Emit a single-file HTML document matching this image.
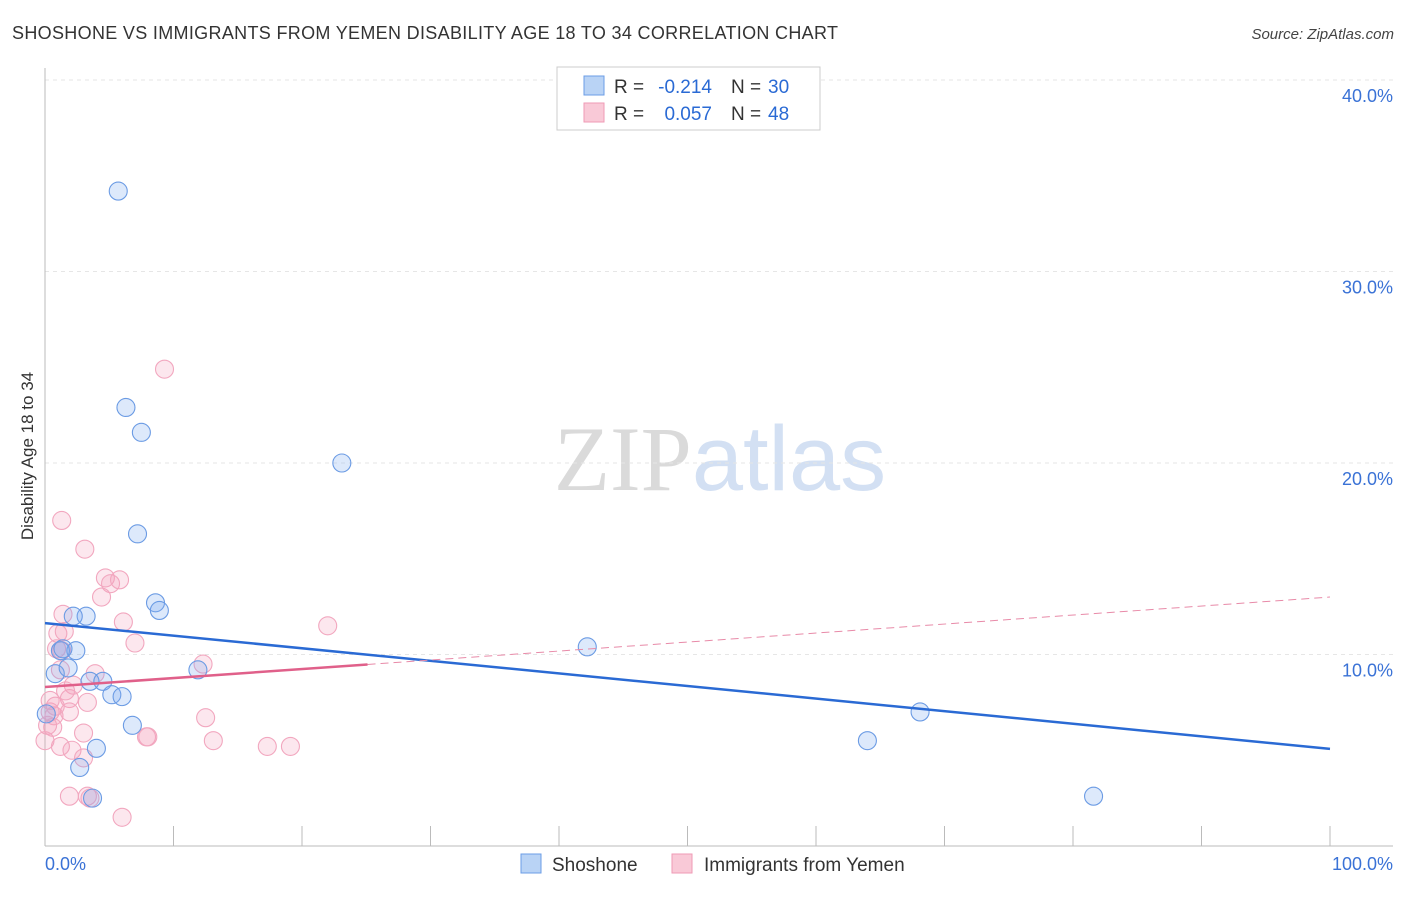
<!DOCTYPE html>
<html><head><meta charset="utf-8"><style>
body{margin:0;background:#fff;font-family:"Liberation Sans",sans-serif;}
svg text{font-family:"Liberation Sans",sans-serif;}
</style></head><body>
<svg id="chart" width="1406" height="892" viewBox="0 0 1406 892" xmlns="http://www.w3.org/2000/svg">
<text x="12" y="39" font-size="18" fill="#333" textLength="826">SHOSHONE VS IMMIGRANTS FROM YEMEN DISABILITY AGE 18 TO 34 CORRELATION CHART</text>
<text x="1394" y="39" font-size="15" fill="#444" text-anchor="end" font-style="italic">Source: ZipAtlas.com</text>
<text x="720" y="490" font-size="92" text-anchor="middle"><tspan fill="#dadada" font-family="Liberation Serif">ZIP</tspan><tspan fill="#d3e0f3">atlas</tspan></text>
<g id="grid"></g>
<g id="axes"></g>
<g id="marks"></g>
<text transform="translate(33,456) rotate(-90)" font-size="17" fill="#333" text-anchor="middle">Disability Age 18 to 34</text>
<g>
<rect x="557" y="67" width="263" height="63" fill="#fff" stroke="#ccc"/>
<rect x="584" y="76" width="20" height="19" fill="#b9d3f5" stroke="#6b9de6"/>
<rect x="584" y="103" width="20" height="19" fill="#f9c9d7" stroke="#ef9ab5"/>
<text x="614" y="93" font-size="19" fill="#333">R =</text>
<text x="712" y="93" font-size="19" fill="#2a6ad4" text-anchor="end">-0.214</text>
<text x="731" y="93" font-size="19" fill="#333">N =</text>
<text x="768" y="93" font-size="19" fill="#2a6ad4">30</text>
<text x="614" y="120" font-size="19" fill="#333">R =</text>
<text x="712" y="120" font-size="19" fill="#2a6ad4" text-anchor="end">0.057</text>
<text x="731" y="120" font-size="19" fill="#333">N =</text>
<text x="768" y="120" font-size="19" fill="#2a6ad4">48</text>
</g>
<g>
<rect x="521" y="854" width="20" height="19" fill="#b9d3f5" stroke="#6b9de6"/>
<text x="552" y="871" font-size="19" fill="#333">Shoshone</text>
<rect x="672" y="854" width="20" height="19" fill="#f9c9d7" stroke="#ef9ab5"/>
<text x="704" y="871" font-size="19" fill="#333">Immigrants from Yemen</text>
</g>
</svg>
<script>
const xTicks=[0,100];
const yTicks=[10,20,30,40];
const blueX=[5.7,6.3,7.5,23.1,7.2,8.6,8.9,3.2,2.2,2.4,1.2,0.8,1.8,11.9,3.5,4.5,5.2,6.0,6.8,4.0,2.7,3.7,42.2,68.1,64.0,81.6,0.1,1.4];
const blueY=[34.2,22.9,21.6,20.0,16.3,12.7,12.3,12.0,12.0,10.2,10.2,9.0,9.3,9.2,8.6,8.6,7.9,7.8,6.3,5.1,4.1,2.5,10.4,7.0,5.5,2.6,6.9,10.3];
const pinkX=[9.3,1.3,3.1,4.7,5.1,5.8,4.4,1.4,6.1,22.0,1.0,1.5,7.0,0.9,1.3,3.9,12.3,1.2,2.2,3.3,1.9,0.4,0.7,0.2,1.9,0.6,0,1.2,3.0,12.5,7.9,8.0,13.1,17.3,19.1,2.1,3.0,1.9,3.3,3.5,6.0,0.8,1.6,0.4];
const pinkY=[24.9,17.0,15.5,14.0,13.7,13.9,13.0,12.1,11.7,11.5,11.1,11.2,10.6,10.3,10.2,9.0,9.5,9.2,8.4,7.5,7.7,7.0,6.8,6.3,7.0,6.2,5.5,5.2,5.9,6.7,5.7,5.7,5.5,5.2,5.2,5.0,4.6,2.6,2.6,2.5,1.5,7.3,8.1,7.6];
const blueTrend=[11.64,5.07];
const pinkTrend=[8.30,13.0];
const pinkSolidEnd=25.1;
const NS="http://www.w3.org/2000/svg";
const sx=v=>45+v*12.85, sy=v=>846-v*19.15;
function mk(parent,tag,attrs){const e=document.createElementNS(NS,tag);for(const k in attrs)e.setAttribute(k,attrs[k]);document.getElementById(parent).appendChild(e);return e;}
yTicks.forEach(t=>{
 const l=mk('grid','line',{x1:45,x2:1393,y1:sy(t),y2:sy(t),stroke:'#e6e6e6','stroke-dasharray':'4,4'});
 
 
 const tx=mk('grid','text',{x:1393,y:sy(t)+22,'font-size':18,fill:'#3a72d6','text-anchor':'end'});
 tx.textContent=t.toFixed(1)+'%';
 
 
});
const ax=mk('axes','line',{x1:45,x2:1393,y1:846,y2:846,stroke:'#bbb'});


const ay=mk('axes','line',{x1:45,x2:45,y1:68,y2:846,stroke:'#bbb'});


for(let i=1;i<=10;i++){const t=mk('axes','line',{x1:sx(i*10),x2:sx(i*10),y1:826,y2:846,stroke:'#bbb'});
 
 }
xTicks.forEach(t=>{const tx=mk('axes','text',{x:t==0?45:1393,y:870,'font-size':18,fill:'#3a72d6','text-anchor':t==0?'start':'end'});
 tx.textContent=t.toFixed(1)+'%';
 
 });
pinkX.forEach((x,i)=>{const c=mk('marks','circle',{cx:sx(x),cy:sy(pinkY[i]),r:9,fill:'rgba(244,160,188,0.25)',stroke:'#f2a7bf','stroke-width':1.1});
 
 });
blueX.forEach((x,i)=>{const c=mk('marks','circle',{cx:sx(x),cy:sy(blueY[i]),r:9,fill:'rgba(120,168,238,0.25)',stroke:'#6b9be4','stroke-width':1.1});
 
 });
const bl=mk('marks','line',{x1:sx(0),y1:sy(blueTrend[0]),x2:sx(100),y2:sy(blueTrend[1]),stroke:'#2a6ad4','stroke-width':2.5});


const pe=pinkTrend[0]+(pinkTrend[1]-pinkTrend[0])*pinkSolidEnd/100;
const pl=mk('marks','line',{x1:sx(0),y1:sy(pinkTrend[0]),x2:sx(pinkSolidEnd),y2:sy(pe),stroke:'#e0608a','stroke-width':2.5});


const pd=mk('marks','line',{x1:sx(pinkSolidEnd),y1:sy(pe),x2:sx(100),y2:sy(pinkTrend[1]),stroke:'#e88aa8','stroke-width':1,'stroke-dasharray':'8,5'});


</script>
</body></html>
